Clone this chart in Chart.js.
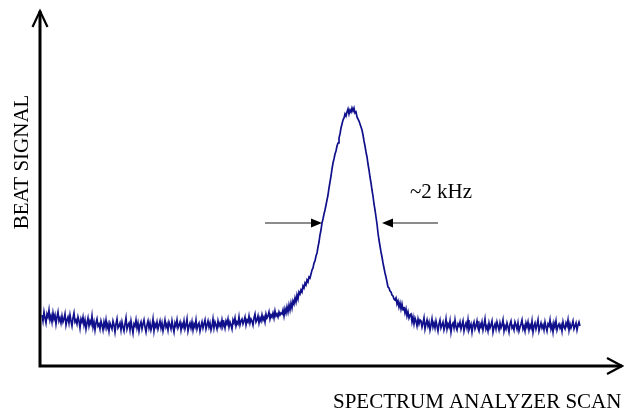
<!DOCTYPE html>
<html>
<head>
<meta charset="utf-8">
<script src="https://cdn.jsdelivr.net/npm/chart.js@4/dist/chart.umd.min.js"></script>
<style>
html,body{margin:0;padding:0;background:#fff;}
#wrap{width:624px;height:413px;}
</style>
</head>
<body>
<div id="wrap"><canvas id="c" width="624" height="413"></canvas></div>
<script>
// Beat signal trace (arbitrary units, axis 0..357)
const signal = [
  52,46,55,49,44,53,50,57,47,51,45,54,48,52,43,50,55,46,49,44,
  51,45,48,53,42,47,50,44,52,46,41,49,54,45,47,43,50,46,39,48,
  45,50,42,47,38,44,49,41,46,43,51,40,45,37,44,48,41,43,38,46,
  42,37,45,40,47,39,43,36,44,41,38,46,42,35,43,48,39,41,44,37,
  45,40,36,43,49,38,42,44,37,46,40,34,43,41,47,39,44,36,42,45,
  38,43,47,40,35,42,46,39,44,37,41,48,36,43,40,45,38,42,46,39,
  44,36,41,47,40,43,37,45,42,38,46,40,35,44,41,47,39,42,45,37,
  43,40,46,38,42,48,36,41,44,39,45,37,43,40,47,38,42,44,36,41,
  45,39,43,47,38,42,46,40,44,37,41,48,39,45,42,38,46,41,44,40,
  47,41,44,39,46,43,48,40,45,42,38,47,44,49,41,45,43,50,42,46,
  48,43,46,50,42,47,45,51,44,48,46,42,49,53,45,47,51,44,49,46,
  52,47,50,45,53,49,51,55,48,52,50,54,49,56,51,53,50,55,52,54,
  53,57,51,58,54,60,55,62,57,64,59,66,63,69,65,72,68,75,73,
  77,75,81,79,84,82,87,85,90,89,
  93,97,99,104,106,111,114,
  120,125,132,137,144,
  148,153,157,162,167,
  172,179,185,191,198,204,
  208,213,216,221,224,
  229,233,239,243,247,
  249,253,251,255,
  258,253,257,255,259,
  256,259,254,255,250,
  248,246,243,240,237,
  232,226,221,215,210,
  203,197,190,184,177,
  171,163,157,150,
  143,134,127,
  121,115,110,104,
  99,94,90,85,80,
  79,76,75,72,71,68,67,
  69,63,66,60,64,58,63,57,
  60,54,58,51,55,49,52,
  53,45,50,43,49,46,41,48,43,47,
  46,40,44,49,38,43,47,41,45,37,42,48,40,44,39,46,41,36,43,47,
  39,42,45,37,41,48,38,43,40,46,35,42,44,39,47,40,37,43,41,45,
  38,42,46,36,41,44,39,47,37,40,43,35,42,45,38,41,46,39,36,43,
  40,45,37,42,48,38,41,36,44,39,42,46,35,40,43,38,45,41,37,44,
  39,42,47,36,41,38,44,40,35,43,46,39,41,37,45,42,38,44,36,40,
  43,47,38,41,36,44,40,45,37,42,39,46,35,41,44,38,42,47,36,40,
  44,39,42,37,45,40,36,43,41,47,38,42,35,44,40,46,37,41,43,39,
  42,36,45,40,38,44,41,47,37,43,39,42,46,38,41,44,37,42,45,41
];
const scanIndex = signal.map((_, i) => i);

// Annotation: width marker at half maximum
const halfLevel = [144];
const leftArrow = [223, 280];    // tail, tip (scan index)
const rightArrow = [396, 340];   // tail, tip (scan index)
const widthLabel = ['~2 kHz'];
const widthLabelPos = [368, 169]; // scan index, level
const axisTitles = ['BEAT SIGNAL', 'SPECTRUM ANALYZER SCAN'];

const FONT = '21px "Liberation Serif", "Times New Roman", serif';

const decor = {
  id: 'decor',
  afterDatasetsDraw(chart) {
    const ctx = chart.ctx;
    const xs = chart.scales.x, ys = chart.scales.y;
    const W = chart.width;
    const ax = chart.chartArea.left - 2;
    const ay = ys.getPixelForValue(0) - 1;
    const top = ys.getPixelForValue(357);
    ctx.save();
    // axes
    ctx.strokeStyle = '#000';
    ctx.lineWidth = 3;
    ctx.lineCap = 'butt';
    ctx.beginPath();
    ctx.moveTo(ax, ay + 1.5);
    ctx.lineTo(ax, top + 1);
    ctx.moveTo(ax - 1.5, ay);
    ctx.lineTo(W - 2, ay);
    ctx.stroke();
    // chevrons
    ctx.lineWidth = 2.2;
    ctx.lineJoin = 'miter';
    ctx.beginPath();
    ctx.moveTo(ax - 7.5, top + 17);
    ctx.lineTo(ax, top + 1);
    ctx.lineTo(ax + 7.5, top + 17);
    ctx.moveTo(W - 17, ay - 8);
    ctx.lineTo(W - 2, ay);
    ctx.lineTo(W - 17, ay + 8);
    ctx.stroke();

    // half-width arrows
    const yh = ys.getPixelForValue(halfLevel[0]);
    function arrow(tail, tip) {
      const xt = xs.getPixelForValue(tail), xp = xs.getPixelForValue(tip);
      const dir = Math.sign(xp - xt);
      ctx.strokeStyle = '#666';
      ctx.lineWidth = 1.5;
      ctx.beginPath();
      ctx.moveTo(xt, yh);
      ctx.lineTo(xp - dir * 9, yh);
      ctx.stroke();
      ctx.fillStyle = '#000';
      ctx.beginPath();
      ctx.moveTo(xp, yh);
      ctx.lineTo(xp - dir * 11, yh - 4.5);
      ctx.lineTo(xp - dir * 11, yh + 4.5);
      ctx.closePath();
      ctx.fill();
    }
    arrow(leftArrow[0], leftArrow[1]);
    arrow(rightArrow[0], rightArrow[1]);

    // texts
    ctx.fillStyle = '#000';
    ctx.font = FONT;
    ctx.textAlign = 'left';
    ctx.textBaseline = 'alphabetic';
    ctx.fillText(widthLabel[0], xs.getPixelForValue(widthLabelPos[0]), ys.getPixelForValue(widthLabelPos[1]));
    ctx.fillText(axisTitles[1], 333, 408);
    ctx.save();
    ctx.translate(28, 162);
    ctx.rotate(-Math.PI / 2);
    ctx.textAlign = 'center';
    ctx.fillText(axisTitles[0], 0, 0);
    ctx.restore();
    ctx.restore();
  }
};

new Chart(document.getElementById('c'), {
  type: 'line',
  data: {
    labels: scanIndex,
    datasets: [{
      data: signal,
      borderColor: '#10108c',
      borderWidth: 1.7,
      pointRadius: 0,
      tension: 0,
      fill: false
    }]
  },
  options: {
    responsive: false,
    animation: false,
    layout: { padding: { left: 42, right: 44, top: 10, bottom: 46 } },
    plugins: { legend: { display: false }, tooltip: { enabled: false } },
    scales: {
      x: { type: 'category', display: false, offset: false },
      y: { min: 0, max: 357, display: false }
    }
  },
  plugins: [decor]
});
</script>
</body>
</html>
